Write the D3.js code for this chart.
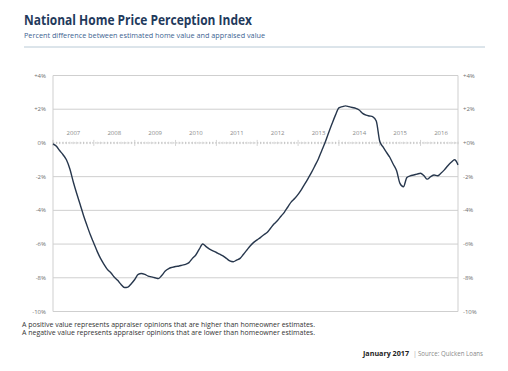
<!DOCTYPE html>
<html>
<head>
<meta charset="utf-8">
<script src="https://cdn.jsdelivr.net/npm/d3@7"></script>
<style>
  body { margin: 0; background: #fff; }
  text { font-family: "Open Sans", "DejaVu Sans", sans-serif; }
</style>
</head>
<body>
<div id="chart-area"></div>
<script>

// SVG Size
var width = 508,
    height = 371;

// monthly readings, Jan 2007 .. Dec 2016
var startMonth = "2007-01";
var perception = [
    -0.05, -0.2, -0.45, -0.7, -1.0, -1.55, -2.3, -3.0, -3.65, -4.3, -4.9, -5.45,
    -5.95, -6.45, -6.85, -7.2, -7.5, -7.7, -7.95, -8.15, -8.4, -8.58, -8.55, -8.35,
    -8.1, -7.8, -7.75, -7.8, -7.9, -7.95, -8.0, -8.05, -7.85, -7.6, -7.45, -7.38,
    -7.33, -7.3, -7.25, -7.2, -7.1, -6.85, -6.65, -6.3, -6.0, -6.15, -6.3, -6.4,
    -6.5, -6.6, -6.7, -6.85, -7.0, -7.05, -6.95, -6.85, -6.6, -6.35, -6.1, -5.9,
    -5.75, -5.6, -5.45, -5.3, -5.05, -4.8, -4.6, -4.35, -4.1, -3.8, -3.5, -3.3,
    -3.05, -2.75, -2.45, -2.1, -1.75, -1.35, -0.95, -0.45, 0.05, 0.6, 1.15, 1.65,
    2.08, 2.15, 2.2, 2.15, 2.1, 2.05, 1.95, 1.75, 1.65, 1.6, 1.55, 1.3,
    0.1, -0.25, -0.55, -0.85, -1.25, -1.65, -2.4, -2.6, -2.05, -1.95, -1.9, -1.85,
    -1.8, -1.95, -2.15, -2.0, -1.9, -1.95, -1.8, -1.6, -1.35, -1.15, -1.0, -1.3
];
var years = [2007, 2008, 2009, 2010, 2011, 2012, 2013, 2014, 2015, 2016];
var yTicks = [4, 2, 0, -2, -4, -6, -8, -10];
var leftLabels = ["+4%", "+2%", "0%", "-2%", "-4%", "-6%", "-8%", "-10%"];
var rightLabels = ["+4%", "+2%", "+0%", "-2%", "-4%", "-6%", "-8%", "-10%"];

var parseMonth = d3.timeParse("%Y-%m");
var t0 = parseMonth(startMonth);
var data = perception.map(function(v, i) {
    return { date: d3.timeMonth.offset(t0, i), value: v };
});

var svg = d3.select("#chart-area").append("svg")
    .attr("width", width)
    .attr("height", height);

var grid = "#cfcfcf",
    labelGrey = "#8a8a8a";

// titles
svg.append("text")
    .attr("x", 24).attr("y", 25)
    .attr("font-size", 15).attr("font-weight", "bold")
    .attr("fill", "#1f3a5c")
    .attr("textLength", 228).attr("lengthAdjust", "spacingAndGlyphs")
    .text("National Home Price Perception Index");

svg.append("text")
    .attr("x", 24).attr("y", 38)
    .attr("font-size", 8).attr("fill", "#3d6391")
    .attr("textLength", 241).attr("lengthAdjust", "spacingAndGlyphs")
    .text("Percent difference between estimated home value and appraised value");

svg.append("line")
    .attr("x1", 24).attr("x2", 485)
    .attr("y1", 47).attr("y2", 47)
    .attr("stroke", "#b9cad6").attr("stroke-width", 1);

// scales
var x = d3.scaleTime()
    .domain([t0, data[data.length - 1].date])
    .range([53, 458]);

var y = d3.scaleLinear()
    .domain([-10, 4])
    .range([311.5, 75.5]);

// horizontal grid
svg.selectAll("line.grid")
    .data(yTicks.filter(function(d){ return d !== 0; }))
    .enter()
    .append("line")
    .attr("class", "grid")
    .attr("x1", 53).attr("x2", 458)
    .attr("y1", function(d){ return y(d); })
    .attr("y2", function(d){ return y(d); })
    .attr("stroke", grid).attr("stroke-width", 1);

// side borders
[53, 458].forEach(function(px) {
    svg.append("line")
        .attr("x1", px).attr("x2", px)
        .attr("y1", y(4)).attr("y2", y(-10))
        .attr("stroke", grid).attr("stroke-width", 1);
});

// zero line with month ticks
var zeroY = y(0);
svg.append("line")
    .attr("x1", 53).attr("x2", 458)
    .attr("y1", zeroY).attr("y2", zeroY)
    .attr("stroke", "#b5b5b5").attr("stroke-width", 0.8)
    .attr("stroke-dasharray", "1.5,1.5");

var months = d3.timeMonth.range(t0, d3.timeMonth.offset(data[data.length - 1].date, 1));
svg.selectAll("line.mtick")
    .data(months)
    .enter()
    .append("line")
    .attr("class", "mtick")
    .attr("x1", function(d){ return x(d); })
    .attr("x2", function(d){ return x(d); })
    .attr("y1", function(d){ return d.getMonth() === 0 ? zeroY - 3 : zeroY - 1.2; })
    .attr("y2", function(d){ return d.getMonth() === 0 ? zeroY + 3 : zeroY + 1.2; })
    .attr("stroke", "#b5b5b5").attr("stroke-width", 0.6);

// year labels, centered in each year
svg.selectAll("text.year")
    .data(years)
    .enter()
    .append("text")
    .attr("class", "year")
    .attr("x", function(d){
        return (x(new Date(d, 0, 1)) + x(new Date(d + 1, 0, 1))) / 2;
    })
    .attr("y", 135)
    .attr("text-anchor", "middle")
    .attr("font-size", 6).attr("fill", labelGrey)
    .text(function(d){ return d; });

// y labels
svg.selectAll("text.yl")
    .data(yTicks)
    .enter()
    .append("text")
    .attr("class", "yl")
    .attr("x", 46)
    .attr("y", function(d){ return y(d) + 2; })
    .attr("text-anchor", "end")
    .attr("font-size", 6).attr("fill", "#707070")
    .text(function(d, i){ return leftLabels[i]; });

svg.selectAll("text.yr")
    .data(yTicks)
    .enter()
    .append("text")
    .attr("class", "yr")
    .attr("x", 463)
    .attr("y", function(d){ return y(d) + 2; })
    .attr("font-size", 6).attr("fill", "#707070")
    .text(function(d, i){ return rightLabels[i]; });

// the line
var line = d3.line()
    .x(function(d){ return x(d.date); })
    .y(function(d){ return y(d.value); })
    .curve(d3.curveMonotoneX);

svg.append("path")
    .datum(data)
    .attr("d", line)
    .attr("fill", "none")
    .attr("stroke", "#27374d")
    .attr("stroke-width", 1.4)
    .attr("stroke-linejoin", "round");

// footnotes
svg.append("text")
    .attr("x", 22).attr("y", 327)
    .attr("font-size", 7).attr("fill", "#333")
    .attr("textLength", 293).attr("lengthAdjust", "spacingAndGlyphs")
    .text("A positive value represents appraiser opinions that are higher than homeowner estimates.");

svg.append("text")
    .attr("x", 22).attr("y", 335)
    .attr("font-size", 7).attr("fill", "#333")
    .attr("textLength", 293).attr("lengthAdjust", "spacingAndGlyphs")
    .text("A negative value represents appraiser opinions that are lower than homeowner estimates.");

svg.append("text")
    .attr("x", 363).attr("y", 356)
    .attr("font-size", 7).attr("font-weight", "bold").attr("fill", "#222")
    .attr("textLength", 46).attr("lengthAdjust", "spacingAndGlyphs")
    .text("January 2017");

svg.append("text")
    .attr("x", 413).attr("y", 356)
    .attr("font-size", 7).attr("fill", "#aaa")
    .text("|");

svg.append("text")
    .attr("x", 418).attr("y", 356)
    .attr("font-size", 7).attr("fill", "#888")
    .attr("textLength", 65).attr("lengthAdjust", "spacingAndGlyphs")
    .text("Source: Quicken Loans");

</script>
</body>
</html>
